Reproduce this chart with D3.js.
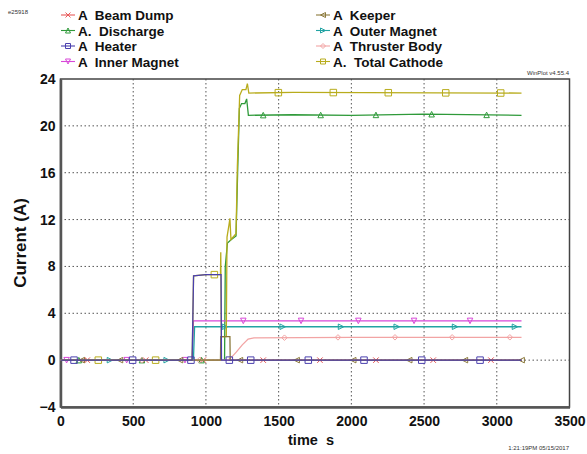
<!DOCTYPE html>
<html>
<head>
<meta charset="utf-8">
<script src="https://cdn.jsdelivr.net/npm/d3@7"></script>
<style>
  body { margin: 0; background: #fff; }
  svg { font-family: "Liberation Sans", Arial, sans-serif; }
  svg text { white-space: pre; }
  .tick-label { font-size: 14px; font-weight: bold; fill: #111; }
  .legend-text { font-size: 13.5px; font-weight: bold; fill: #111; }
  .tiny { font-size: 6px; fill: #333; }
</style>
</head>
<body>
<svg id="chart" width="587" height="454"></svg>
<script>
// axis ticks
var x_ticks = [0, 500, 1000, 1500, 2000, 2500, 3000, 3500];
var y_ticks = [-4, 0, 4, 8, 12, 16, 20, 24];

// series names / colours (legend order, two columns)
var names = ["A  Beam Dump", "A.  Discharge", "A  Heater", "A  Inner Magnet",
             "A  Keeper", "A  Outer Magnet", "A  Thruster Body", "A.  Total Cathode"];
var colors = ["#e85a5a", "#2f9a3a", "#4a40ae", "#d848d8",
              "#8c7a3c", "#22a3a3", "#f2a4a4", "#b8ac1c"];
var shapes = ["cross", "up", "square", "down", "left", "right", "diamond", "square"];

// [time s, current A]
var beam_dump = [[0, 0], [3170, 0]];
var discharge = [[0, 0], [1128, 0], [1133, 8.0], [1148, 10.0], [1175, 10.3], [1207, 10.6],
                 [1218, 16.0], [1230, 21.5], [1245, 21.9], [1268, 21.9], [1280, 22.3],
                 [1292, 20.9], [1600, 20.95], [2000, 20.9], [2500, 21.0], [3170, 20.9]];
var heater = [[0, 0], [905, 0], [915, 7.2], [1000, 7.3], [1104, 7.3], [1107, 0], [3170, 0]];
var inner_magnet = [[0, 0], [906, 0], [914, 3.35], [3170, 3.35]];
var keeper = [[0, 0], [1100, 0], [1102, 2.0], [1165, 2.0], [1167, 0], [3170, 0]];
var outer_magnet = [[0, 0], [914, 0], [922, 2.85], [3170, 2.85]];
var thruster_body = [[0, 0], [1150, 0], [1180, 0.3], [1210, 0.7], [1250, 1.3], [1290, 1.8],
                     [1330, 1.9], [2000, 1.95], [3170, 1.95]];
var total_cathode = [[0, 0], [905, 0], [915, 7.2], [1000, 7.3], [1100, 7.3], [1102, 9.2],
                     [1106, 2.0], [1140, 2.0], [1145, 10.5], [1158, 11.5], [1165, 12.1],
                     [1172, 10.3], [1207, 10.8], [1216, 16.5], [1232, 22.6], [1250, 23.1],
                     [1275, 23.1], [1285, 23.6], [1295, 22.8], [1600, 22.85], [3170, 22.8]];

// marker times per series
var beam_dump_marks = [184, 586, 982, 1394, 1784, 2169, 2563, 2960];
var discharge_marks = [126, 560, 970, 1394, 1789, 2169, 2552, 2930];
var heater_marks = [93, 496, 897, 1161, 1308, 1704, 2087, 2484, 2885];
var inner_marks = [42, 455, 856, 1257, 1654, 2048, 2431, 2816];
var keeper_marks = [146, 409, 822, 1234, 1624, 2013, 2398, 2781, 3171];
var outer_marks = [340, 730, 1131, 1528, 1929, 2312, 2713, 3125];
var thruster_marks = [170, 560, 955, 1540, 1908, 2300, 2693, 3090];
var cathode_marks = [260, 654, 1058, 1498, 1876, 2254, 2649, 3027];

var series_data = [beam_dump, discharge, heater, inner_magnet, keeper, outer_magnet, thruster_body, total_cathode];
var series_marks = [beam_dump_marks, discharge_marks, heater_marks, inner_marks,
                    keeper_marks, outer_marks, thruster_marks, cathode_marks];
// drawing order so the zero line looks like the original
var draw_order = [0, 1, 3, 5, 6, 7, 4, 2];

var plot_left = 60.5, plot_right = 569.5, plot_top = 79, plot_bottom = 407;

var svg = d3.select("#chart");
var x = d3.scaleLinear().domain([0, 3500]).range([plot_left, plot_right]);
var y = d3.scaleLinear().domain([-4, 24]).range([plot_bottom, plot_top]);

/* grid */
var grid = svg.append("g");
grid.selectAll("line.gx").data(x_ticks.slice(1, -1)).enter().append("line")
    .attr("x1", x).attr("x2", x).attr("y1", plot_top).attr("y2", plot_bottom)
    .attr("stroke", "#555").attr("stroke-width", 1).attr("stroke-dasharray", "1.5,2.5");
grid.selectAll("line.gy").data(y_ticks.slice(1, -1)).enter().append("line")
    .attr("y1", y).attr("y2", y).attr("x1", plot_left).attr("x2", plot_right)
    .attr("stroke", "#555").attr("stroke-width", 1).attr("stroke-dasharray", "1.5,2.5");

/* frame */
svg.append("rect").attr("x", plot_left).attr("y", plot_top).attr("width", plot_right - plot_left)
    .attr("height", plot_bottom - plot_top).attr("fill", "none").attr("stroke", "#444").attr("stroke-width", 1.5);

/* axes (labels only) */
var xa = svg.append("g").attr("transform", "translate(0," + plot_bottom + ")")
    .call(d3.axisBottom(x).tickValues(x_ticks).tickFormat(d3.format("d")).tickSize(0).tickPadding(9));
xa.select(".domain").attr("stroke", "#555").attr("stroke-width", 2.5);
xa.selectAll("text").attr("class", "tick-label").attr("font-family", null).attr("font-size", null);
var ya = svg.append("g").attr("transform", "translate(" + plot_left + ",0)")
    .call(d3.axisLeft(y).tickValues(y_ticks).tickFormat(d3.format("d")).tickSize(0).tickPadding(5));
ya.select(".domain").attr("stroke", "#555").attr("stroke-width", 2.5);
ya.selectAll("text").attr("class", "tick-label").attr("font-family", null).attr("font-size", null);

/* axis titles */
svg.append("text").attr("transform", "translate(26," + ((plot_top + plot_bottom) / 2) + ") rotate(-90)")
    .attr("text-anchor", "middle").attr("font-size", 17).attr("font-weight", "bold")
    .attr("fill", "#111").text("Current (A)");
svg.append("text").attr("x", 311).attr("y", 445).attr("text-anchor", "middle")
    .attr("font-size", 14.5).attr("font-weight", "bold").attr("fill", "#111").text("time  s");

svg.append("text").attr("class", "tiny").attr("x", 8).attr("y", 14).text("e25918");
svg.append("text").attr("class", "tiny").attr("x", 569).attr("y", 75)
    .attr("text-anchor", "end").text("WinPlot v4.55.4");
svg.append("text").attr("class", "tiny").attr("x", 569).attr("y", 450)
    .attr("text-anchor", "end").text("1:21:19PM 05/15/2017");

function marker_path(shape, s) {
    var h = s / 2;
    switch (shape) {
        case "cross": return "M" + (-h) + "," + (-h) + "L" + h + "," + h + "M" + (-h) + "," + h + "L" + h + "," + (-h);
        case "up": return "M0," + (-h) + "L" + h + "," + h + "L" + (-h) + "," + h + "Z";
        case "down": return "M0," + h + "L" + h + "," + (-h) + "L" + (-h) + "," + (-h) + "Z";
        case "left": return "M" + (-h) + ",0L" + h + "," + (-h) + "L" + h + "," + h + "Z";
        case "right": return "M" + h + ",0L" + (-h) + "," + (-h) + "L" + (-h) + "," + h + "Z";
        case "diamond": return "M0," + (-h) + "L" + h + ",0L0," + h + "L" + (-h) + ",0Z";
        default: return "M" + (-h) + "," + (-h) + "H" + h + "V" + h + "H" + (-h) + "Z";
    }
}

function value_at(data, t) {
    for (var i = 1; i < data.length; i++) {
        if (t <= data[i][0]) {
            var a = data[i - 1], b = data[i];
            return a[1] + (b[1] - a[1]) * (t - a[0]) / (b[0] - a[0]);
        }
    }
    return data[data.length - 1][1];
}

var line = d3.line().x(function (d) { return x(d[0]); }).y(function (d) { return y(d[1]); });

var plot = svg.append("g");
draw_order.forEach(function (k) {
    var g = plot.append("g");
    g.append("path").datum(series_data[k]).attr("d", line).attr("fill", "none")
        .attr("stroke", colors[k]).attr("stroke-width", 1.3);
    g.selectAll("path.m").data(series_marks[k]).enter().append("path")
        .attr("transform", function (t) {
            return "translate(" + x(t) + "," + y(value_at(series_data[k], t)) + ")";
        })
        .attr("d", marker_path(shapes[k], (shapes[k] == "square") ? 6.5 : 5.5))
        .attr("fill", "none").attr("stroke", colors[k]).attr("stroke-width", 1);
});

/* legend */
var legend = svg.append("g");
names.forEach(function (n, k) {
    var col = Math.floor(k / 4), row = k % 4;
    var lx = col == 0 ? 61 : 316;
    var ly = 15 + row * 15.5;
    legend.append("line").attr("x1", lx).attr("x2", lx + 14).attr("y1", ly).attr("y2", ly)
        .attr("stroke", colors[k]).attr("stroke-width", 1.1);
    legend.append("path").attr("transform", "translate(" + (lx + 7) + "," + ly + ")")
        .attr("d", marker_path(shapes[k], 5)).attr("fill", "none")
        .attr("stroke", colors[k]).attr("stroke-width", 1);
    legend.append("text").attr("class", "legend-text").attr("x", lx + 17).attr("y", ly + 5).text(n);
});
</script>
</body>
</html>
